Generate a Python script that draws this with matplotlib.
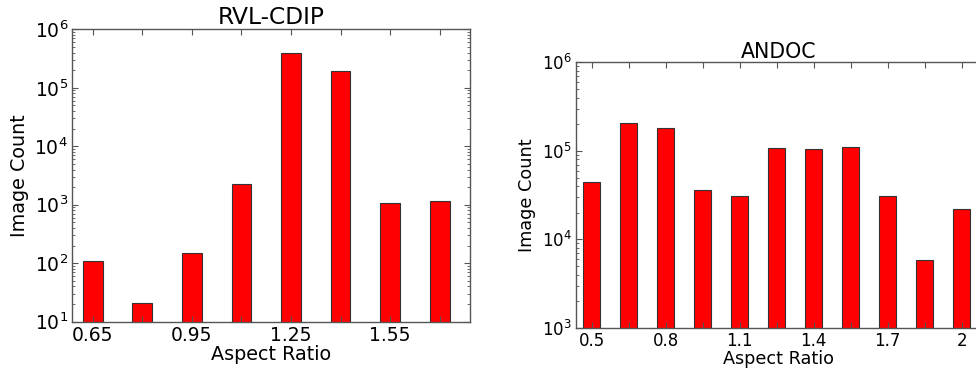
import matplotlib
matplotlib.use("Agg")
import matplotlib.pyplot as plt
from matplotlib.ticker import LogLocator, NullFormatter

plt.rcParams['font.family'] = ['DejaVu Sans']
plt.rcParams['mathtext.fontset'] = 'dejavusans'

# RVL-CDIP data
rvl_ratios = [0.65, 0.80, 0.95, 1.10, 1.25, 1.40, 1.55, 1.70]
rvl_counts = [109, 21, 148, 2230, 388000, 196000, 1070, 1160]
rvl_ticklabels = ['0.65', '', '0.95', '', '1.25', '', '1.55', '']

# ANDOC data
andoc_ratios = [0.50, 0.65, 0.80, 0.95, 1.10, 1.25, 1.40, 1.55, 1.70, 1.85, 2.00]
andoc_counts = [44000, 205000, 181000, 36000, 31300, 108000, 105000, 112000, 31300, 5820, 22200]
andoc_ticklabels = ['0.5', '', '0.8', '', '1.1', '', '1.4', '', '1.7', '', '2']

W, H = 976, 371
fig = plt.figure(figsize=(W / 100, H / 100), dpi=100)

def px_axes(x0, y0, x1, y1):
    return fig.add_axes([x0 / W, 1 - y1 / H, (x1 - x0) / W, (y1 - y0) / H])

ax1 = px_axes(72.3, 29.3, 470, 321.7)
ax2 = px_axes(575.7, 62.3, 982, 328)

def style(ax, ticksize, labelsize, titlesize, title):
    for s in ax.spines.values():
        s.set_color('#555555')
        s.set_linewidth(1.0)
    ax.set_yscale('log')
    ax.yaxis.set_minor_locator(LogLocator(base=10, subs=range(2, 10)))
    ax.yaxis.set_minor_formatter(NullFormatter())
    ax.tick_params(which='both', direction='in', top=True, right=True,
                   colors='#555555', labelcolor='black', labelsize=ticksize, pad=3)
    ax.tick_params(which='major', length=4, width=0.8)
    ax.tick_params(which='minor', length=2, width=0.6)
    ax.set_xlabel('Aspect Ratio', fontsize=labelsize, labelpad=0)
    ax.set_ylabel('Image Count', fontsize=labelsize, labelpad=4)
    ax.set_title(title, fontsize=titlesize, pad=3)

ax1.bar(rvl_ratios, rvl_counts, width=0.06, color='#ff0000',
        edgecolor='#333333', linewidth=0.8)
ax1.set_ylim(10, 1e6)
ax1.set_xlim(0.588, 1.792)
ax1.set_xticks(rvl_ratios)
ax1.set_xticklabels(rvl_ticklabels)
style(ax1, 13.5, 13.8, 16.8, 'RVL-CDIP')

ax2.bar(andoc_ratios, andoc_counts, width=0.068, color='#ff0000',
        edgecolor='#333333', linewidth=0.8)
ax2.set_ylim(1e3, 1e6)
ax2.set_xlim(0.435, 2.082)
ax2.set_xticks(andoc_ratios)
ax2.set_xticklabels(andoc_ticklabels)
style(ax2, 12, 12.7, 14.8, 'ANDOC')

fig.savefig('out.png', dpi=100)
